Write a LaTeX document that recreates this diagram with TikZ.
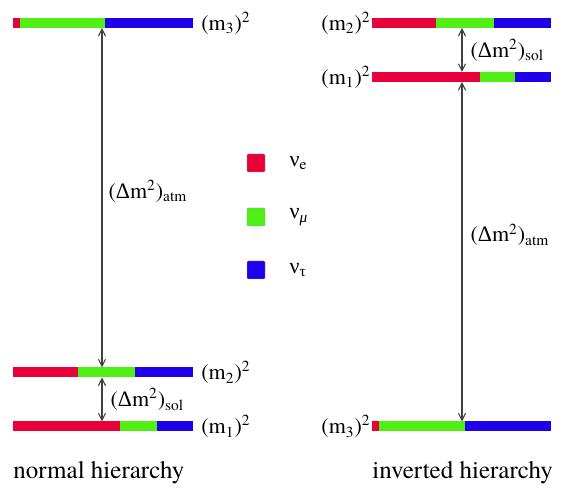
\documentclass[tikz,border=0pt]{standalone}
\usepackage{fontspec}
\setmainfont{texgyretermes}[Extension=.otf, UprightFont=*-regular, ItalicFont=*-italic, BoldFont=*-bold]
\newfontfamily\grk{Liberation Serif}
\usepackage{xcolor}
\usepackage{tikz}
\usetikzlibrary{arrows.meta,positioning}
\definecolor{nured}{RGB}{232,0,58}
\definecolor{numu}{RGB}{80,240,20}
\definecolor{nutau}{RGB}{30,0,235}

\begin{document}
\begin{tikzpicture}[x=0.5pt, y=-0.5pt,
    seg/.style={rectangle, minimum height=5pt, inner sep=0pt, outer sep=0pt, anchor=west},
    key/.style={rectangle, rounded corners=0.6pt, minimum size=9pt, inner sep=0pt, draw=black!40, line width=0.2pt},
    mass/.style={inner sep=0pt, text=black, font=\fontsize{11}{13}\selectfont},
    lbl/.style={inner sep=0pt, text=black, font=\fontsize{11}{13}\selectfont},
    title/.style={inner sep=0pt, anchor=base west, font=\fontsize{12.5}{15}\selectfont},
    arrow/.style={{Straight Barb[length=3.5pt,width=3.5pt]}-{Straight Barb[length=3.5pt,width=3.5pt]}, line width=0.55pt, black!75}
  ]
    \useasboundingbox (0,0) rectangle (568,490);

    % normal hierarchy
    \node[seg, fill=nured, minimum width=3.5pt] (l3e) at (13,23) {};
    \node[seg, fill=numu, minimum width=42.5pt, right=0pt of l3e] (l3m) {};
    \node[seg, fill=nutau, minimum width=44pt, right=0pt of l3m] (l3t) {};
    \node[seg, fill=nured, minimum width=32.5pt] (l2e) at (13,372.5) {};
    \node[seg, fill=numu, minimum width=28.5pt, right=0pt of l2e] (l2m) {};
    \node[seg, fill=nutau, minimum width=29pt, right=0pt of l2m] (l2t) {};
    \node[seg, fill=nured, minimum width=53.5pt] (l1e) at (13,426.5) {};
    \node[seg, fill=numu, minimum width=18.5pt, right=0pt of l1e] (l1m) {};
    \node[seg, fill=nutau, minimum width=18pt, right=0pt of l1m] (l1t) {};
    \node[mass, right=4pt of l3t] (lm3) {(m\textsubscript{3})\textsuperscript{2}};
    \node[mass, right=4pt of l2t] (lm2) {(m\textsubscript{2})\textsuperscript{2}};
    \node[mass, right=4pt of l1t] (lm1) {(m\textsubscript{1})\textsuperscript{2}};
    \coordinate (la) at (102,0);
    \draw[arrow] (l3m.south -| la) -- node[lbl, right=3pt, pos=0.48] (latm) {({\grk Δ}m\textsuperscript{2})\textsubscript{atm}} (l2m.north -| la);
    \draw[arrow] (l2m.south -| la) -- node[lbl, right=4pt] (lsol) {({\grk Δ}m\textsuperscript{2})\textsubscript{sol}} (l1e.north -| la);
    \node[title] (nh) at (13,479) {normal hierarchy};

    % inverted hierarchy
    \node[seg, fill=nured, minimum width=32pt] (r2e) at (372,23) {};
    \node[seg, fill=numu, minimum width=29pt, right=0pt of r2e] (r2m) {};
    \node[seg, fill=nutau, minimum width=28.5pt, right=0pt of r2m] (r2t) {};
    \node[seg, fill=nured, minimum width=54pt] (r1e) at (372,77) {};
    \node[seg, fill=numu, minimum width=17.5pt, right=0pt of r1e] (r1m) {};
    \node[seg, fill=nutau, minimum width=18pt, right=0pt of r1m] (r1t) {};
    \node[seg, fill=nured, minimum width=3.5pt] (r3e) at (372,426.5) {};
    \node[seg, fill=numu, minimum width=43pt, right=0pt of r3e] (r3m) {};
    \node[seg, fill=nutau, minimum width=43pt, right=0pt of r3m] (r3t) {};
    \node[mass, left=0.5pt of r2e] (rm2) {(m\textsubscript{2})\textsuperscript{2}};
    \node[mass, left=0.5pt of r1e] (rm1) {(m\textsubscript{1})\textsuperscript{2}};
    \node[mass, left=0.5pt of r3e] (rm3) {(m\textsubscript{3})\textsuperscript{2}};
    \coordinate (ra) at (462,0);
    \draw[arrow] (r2m.south -| ra) -- node[lbl, right=4pt] (rsol) {({\grk Δ}m\textsuperscript{2})\textsubscript{sol}} (r1e.north -| ra);
    \draw[arrow] (r1e.south -| ra) -- node[lbl, right=4pt, pos=0.45] (ratm) {({\grk Δ}m\textsuperscript{2})\textsubscript{atm}} (r3m.north -| ra);
    \node[title] (ih) at (372,479) {inverted hierarchy};

    % legend
    \node[key, fill=nured] (ke) at (256,163) {};
    \node[key, fill=numu] (km) at (256,217) {};
    \node[key, fill=nutau] (kt) at (256,270) {};
    \node[lbl, right=12pt of ke] (le) {{\grk ν}\textsubscript{e}};
    \node[lbl, right=12pt of km] (lmu) {{\grk ν}\textsubscript{\grk\itshape μ}};
    \node[lbl, right=12pt of kt] (ltau) {{\grk ν}\textsubscript{\grk τ}};
  \end{tikzpicture}
\end{document}
